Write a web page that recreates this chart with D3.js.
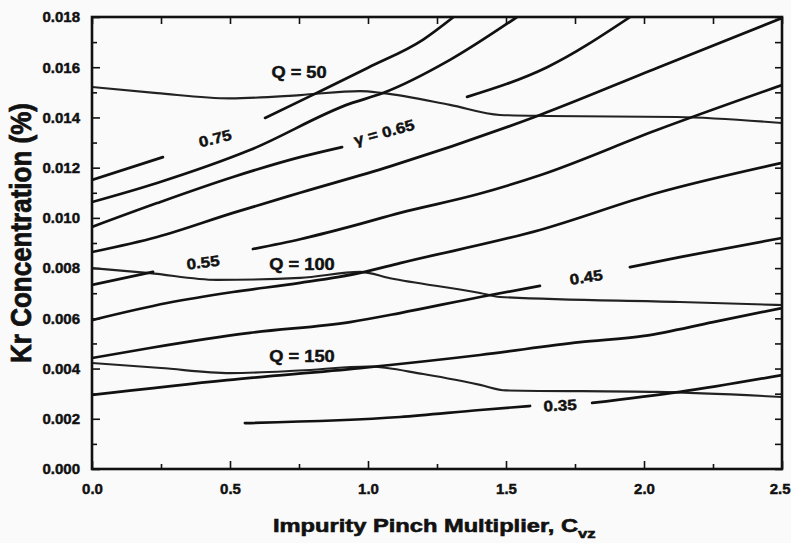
<!DOCTYPE html>
<html>
<head>
<meta charset="utf-8">
<script src="https://cdn.jsdelivr.net/npm/d3@7"></script>
<style>
  html, body { margin: 0; padding: 0; background: #fafafa; }
  svg { display: block; }
  text { font-family: "Liberation Sans", Arial, Helvetica, sans-serif; font-weight: bold; fill: #111; stroke: #111; stroke-width: 0.45px; }
</style>
</head>
<body>
<svg id="chart" width="791" height="543"></svg>
<script>
// Axis ranges and tick values
const xDomain = [0, 2.5];
const yDomain = [0, 0.018];
const xMajorTicks = [0, 0.5, 1.0, 1.5, 2.0, 2.5];
const xMinorTicks = [0.25, 0.75, 1.25, 1.75, 2.25];
const yMajorTicks = [0, 0.002, 0.004, 0.006, 0.008, 0.010, 0.012, 0.014, 0.016, 0.018];
const yMinorTicks = [0.001, 0.003, 0.005, 0.007, 0.009, 0.011, 0.013, 0.015, 0.017];

// Constant-gamma contours: [C_vz, Kr %]; null marks the break where the label sits
const gamma075 = [[0, 0.01151], [0.257, 0.01242], null, [0.627, 0.01398], [0.80, 0.0149], [1.0, 0.01598], [1.2, 0.0171], [1.31, 0.0180]];
const gamma070 = [[0, 0.01063], [0.236, 0.01139], [0.572, 0.0127], [0.935, 0.01455], [1.054, 0.01497], [1.297, 0.01629], [1.54, 0.0180]];
const gamma065 = [[0, 0.00964], [0.236, 0.01059], [0.511, 0.01163], [0.754, 0.01242], [0.906, 0.01282], null, [1.359, 0.01482], [1.649, 0.0160], [1.95, 0.0180]];
const gamma060 = [[0, 0.00864], [0.236, 0.00924], [0.511, 0.0102], [0.754, 0.0110], [1.08, 0.01205], [1.623, 0.0141], [2.047, 0.01597], [2.5, 0.01796]];
const gamma055 = [[0, 0.00733], [0.221, 0.00785], null, [0.583, 0.00876], [0.754, 0.00915], [0.935, 0.00965], [1.116, 0.0102], [1.4, 0.01095], [1.623, 0.0117], [2.047, 0.0135], [2.5, 0.01529]];
const gamma050 = [[0, 0.00593], [0.272, 0.00661], [0.511, 0.00705], [0.754, 0.00741], [0.971, 0.00781], [1.116, 0.0082], [1.623, 0.00952], [2.047, 0.01099], [2.5, 0.01219]];
const gamma045 = [[0, 0.00442], [0.21, 0.00482], [0.572, 0.00542], [0.935, 0.00585], [1.116, 0.00621], [1.406, 0.00685], [1.623, 0.00729], null, [1.949, 0.00804], [2.13, 0.00844], [2.5, 0.0092]];
const gamma040 = [[0, 0.00295], [0.489, 0.00354], [0.971, 0.00402], [1.406, 0.00454], [1.768, 0.00505], [2.0, 0.0053], [2.25, 0.00585], [2.5, 0.00641]];
const gamma035 = [[0.554, 0.00183], [1.116, 0.00207], [1.406, 0.00235], [1.587, 0.00251], null, [1.812, 0.00263], [2.13, 0.00307], [2.5, 0.00374]];
const gammaCurves = [gamma075, gamma070, gamma065, gamma060, gamma055, gamma050, gamma045, gamma040, gamma035];

// Constant-Q contours
const q50 = [[0, 0.01521], [0.236, 0.01497], [0.5, 0.01476], [0.754, 0.01489], [0.971, 0.01505], [1.054, 0.01497], [1.297, 0.0145], [1.478, 0.0141], [1.649, 0.01406], [2.12, 0.01402], [2.5, 0.01378]];
const q100 = [[0, 0.0080], [0.21, 0.0078], [0.453, 0.00753], [0.754, 0.00761], [0.971, 0.00785], [1.08, 0.0076], [1.406, 0.00701], [1.478, 0.00685], [2.13, 0.00665], [2.5, 0.00653]];
const q150 = [[0, 0.00422], [0.25, 0.00402], [0.5, 0.00382], [0.75, 0.00392], [1.0, 0.00408], [1.2, 0.00378], [1.406, 0.00335], [1.5, 0.00313], [2.047, 0.00307], [2.5, 0.00287]];
const qCurves = [q50, q100, q150];

// Contour labels: text, anchor [C_vz, Kr %], tilt in degrees
const labelTexts = ["Q = 50", "0.75", "\u03B3 = 0.65", "0.55", "Q = 100", "Q = 150", "0.45", "0.35"];
const labelAnchors = [[0.75, 0.01581], [0.446, 0.01318], [1.058, 0.01342], [0.402, 0.00824], [0.761, 0.00816], [0.761, 0.0045], [1.79, 0.00765], [1.696, 0.00255]];
const labelTilts = [0, -14, -15, -7, 0, 0, -9, -3];

const svg = d3.select("#chart");
const margin = { left: 92, right: 9, top: 17, bottom: 74 };
const W = 791, H = 543;
const x = d3.scaleLinear().domain(xDomain).range([margin.left, W - margin.right]);
const y = d3.scaleLinear().domain(yDomain).range([H - margin.bottom, margin.top]);
const [x0, x1] = x.range();
const [y0, y1] = y.range();

svg.append("defs").append("clipPath").attr("id", "plotClip")
  .append("rect").attr("x", x0).attr("y", y1).attr("width", x1 - x0).attr("height", y0 - y1);

// Ticks (all pointing into the plot)
function styleAxis(g) {
  g.select(".domain").remove();
  g.selectAll(".tick line").attr("stroke", "#111").attr("stroke-width", 1.6);
  g.selectAll(".tick text").style("font-size", "15px").attr("fill", "#111");
}
const bottomAxis = svg.append("g").attr("transform", `translate(0,${y0})`)
  .call(d3.axisBottom(x).tickValues(xMajorTicks).tickSize(-8).tickPadding(14).tickFormat(d3.format(".1f")))
  .call(styleAxis);
// keep the last tick label inside the page edge
bottomAxis.selectAll(".tick text").filter(d => d === xDomain[1])
  .attr("text-anchor", "end").attr("x", W - 1 - x1);
svg.append("g").attr("transform", `translate(0,${y0})`)
  .call(d3.axisBottom(x).tickValues(xMinorTicks).tickSize(-5).tickFormat(""))
  .call(styleAxis);
svg.append("g").attr("transform", `translate(0,${y1})`)
  .call(d3.axisTop(x).tickValues(xMajorTicks.concat(xMinorTicks)).tickSize(-7).tickFormat(""))
  .call(styleAxis);
svg.append("g").attr("transform", `translate(${x0},0)`)
  .call(d3.axisLeft(y).tickValues(yMajorTicks).tickSize(-8).tickPadding(12).tickFormat(d3.format(".3f")))
  .call(styleAxis);
svg.append("g").attr("transform", `translate(${x0},0)`)
  .call(d3.axisLeft(y).tickValues(yMinorTicks).tickSize(-5).tickFormat(""))
  .call(styleAxis);
svg.append("g").attr("transform", `translate(${x1},0)`)
  .call(d3.axisRight(y).tickValues(yMajorTicks.concat(yMinorTicks)).tickSize(-7).tickFormat(""))
  .call(styleAxis);

// Contours
const line = d3.line()
  .defined(d => d !== null)
  .x(d => x(d[0]))
  .y(d => y(d[1]))
  .curve(d3.curveMonotoneX);

const plot = svg.append("g").attr("clip-path", "url(#plotClip)");
plot.selectAll("path.q").data(qCurves).join("path")
  .attr("class", "q")
  .attr("d", line)
  .attr("fill", "none")
  .attr("stroke", "#222")
  .attr("stroke-width", 2.1)
  .attr("stroke-linejoin", "round");
plot.selectAll("path.gamma").data(gammaCurves).join("path")
  .attr("class", "gamma")
  .attr("d", line)
  .attr("fill", "none")
  .attr("stroke", "#111")
  .attr("stroke-width", 2.7)
  .attr("stroke-linecap", "round")
  .attr("stroke-linejoin", "round");

// Frame
svg.append("rect")
  .attr("x", x0).attr("y", y1)
  .attr("width", x1 - x0).attr("height", y0 - y1)
  .attr("fill", "none").attr("stroke", "#111").attr("stroke-width", 2.6);

// Contour labels
svg.selectAll("text.clabel").data(labelTexts).join("text")
  .attr("class", "clabel")
  .attr("transform", (d, i) => {
    const [cx, cy] = labelAnchors[i];
    return `translate(${x(cx)},${y(cy)}) rotate(${labelTilts[i]}) scale(1.14,1)`;
  })
  .attr("text-anchor", "middle")
  .attr("dominant-baseline", "central")
  .style("font-size", (d) => d.startsWith("Q") ? "16px" : "15px")
  .text(d => d);

// Axis titles
const xTitle = svg.append("text")
  .attr("transform", `translate(273,532) scale(1.28,1)`)
  .style("font-size", "18.5px")
  .style("stroke-width", "0.6px");
xTitle.append("tspan").text("Impurity Pinch Multiplier, C");
xTitle.append("tspan").attr("dy", 6).style("font-size", "13px").text("vz");

svg.append("text")
  .attr("transform", `translate(31,233) scale(1.12,1) rotate(-90)`)
  .attr("text-anchor", "middle")
  .style("font-size", "26px")
  .style("stroke-width", "0.7px")
  .text("Kr Concentration (%)");
</script>
</body>
</html>
